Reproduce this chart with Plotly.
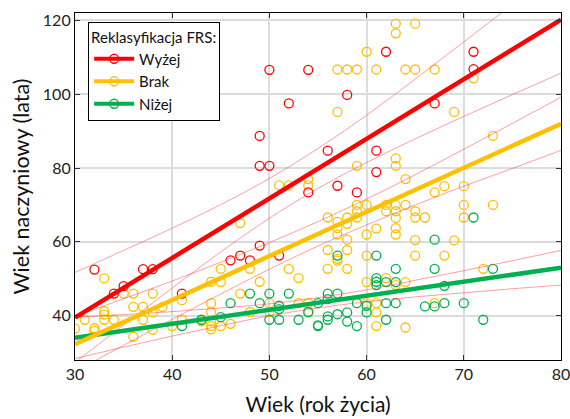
import plotly.graph_objects as go

# ---------------- data ----------------
red_x = [32, 34, 35, 37, 38, 41, 46, 47, 48, 49, 51, 54, 49, 49, 50, 50, 54, 52, 56, 57, 58, 59, 61, 61, 62, 67, 71, 71]
red_y = [52.5, 46, 48, 52.6, 52.6, 46, 55, 56.3, 55, 59, 56.3, 73.4, 88.7, 80.6, 80.6, 106.6, 106.6, 97.5, 84.7, 75.2, 99.8, 73.4, 84.7, 78.9, 111.5, 97.5, 111.5, 106.8]

yellow_x = [30, 31, 32, 32, 33, 33, 33, 33, 34, 35, 36, 36, 36, 37, 37, 38, 38, 38, 39, 40, 41, 41, 43,
            44, 44, 44, 44, 44, 44, 45, 45, 45, 46, 47, 47, 48, 48, 49, 50, 50, 51, 52, 52, 53, 53,
            54, 54, 54, 54, 56, 56, 56, 57, 57, 57, 57, 57, 57, 57, 58, 58, 58, 58, 58, 58,
            59, 59, 59, 59, 59, 60, 60, 60, 60, 60, 60, 61, 61, 61, 61, 61, 62, 62, 62,
            63, 63, 63, 63, 63, 63, 63, 63, 63, 63, 64, 64, 64, 64, 64, 65, 65, 65, 65, 65, 65,
            66, 67, 67, 67, 68, 68, 69, 69, 70, 70, 70, 71, 72, 73, 73]
yellow_y = [36.5, 38.9, 36.6, 35.9, 50.1, 41.2, 40.3, 38.9, 38.9, 46, 46, 42.4, 34.3, 42.4, 38.9, 46, 40.9, 36.2, 42.4, 37.2, 44.2, 38.9, 38.5,
            49.2, 43.4, 41, 38.5, 37.2, 36.3, 52.7, 49.1, 37.2, 37.8, 65.1, 46, 52.7, 41, 49.2, 43.4, 41, 75.3, 75.3, 52.7, 50.2, 43.4,
            77, 75.3, 43.4, 40.9, 66.6, 57.8, 52.7, 106.7, 95.2, 65.4, 63.7, 62, 55.4, 54.9, 106.7, 66.6, 64.9, 60.6, 57.8, 52.7,
            106.7, 80.6, 70, 68.3, 66.6, 111.5, 70, 62, 56.3, 49.1, 43.4, 106.7, 63.6, 43.4, 40.9, 37.2, 70, 68.3, 50.2,
            119.1, 116.5, 82.6, 80.6, 70, 68.3, 66.5, 63.7, 62, 48.3, 106.7, 77, 70, 49.1, 36.8, 119.1, 106.7, 68.3, 66.6, 60.5, 56.3,
            66.6, 106.7, 73.4, 43.4, 75.1, 56.3, 95.2, 60.4, 75.1, 70, 66.6, 104.3, 52.7, 88.7, 70]

green_x = [41, 43, 45, 46, 48, 49, 50, 50, 51, 51, 51, 52, 53, 54, 55, 55, 55, 56, 56, 56, 56,
           57, 57, 57, 58, 58, 59, 59, 60, 60, 61, 61, 61, 61, 62, 62, 62, 63, 63, 63,
           66, 67, 67, 67, 68, 68, 70, 71, 72, 73]
green_y = [37.2, 38.9, 39.6, 43.4, 46, 43.4, 46, 38.9, 42.7, 41.8, 38.9, 46, 38.9, 41, 43.4, 37.2, 37.4, 46, 44.5, 39.8, 38.9,
           56.3, 46, 40.4, 40.9, 38.4, 43.4, 37.2, 42.7, 40.9, 56.3, 50.2, 49.2, 48.3, 49.1, 43.4, 38.9, 52.7, 49.1, 43.4,
           42.5, 60.6, 52.7, 42.5, 48.1, 43.4, 43.4, 66.6, 38.9, 52.7]

# regression lines and confidence bands
band_x = [30, 35, 40, 45, 50, 55, 60, 65, 70, 75, 80]
red_fit = [39.5, 47.6, 55.6, 63.7, 71.8, 79.9, 87.9, 96.0, 104.1, 112.1, 120.2]
red_up = [51.7, 57.7, 63.7, 70.1, 77.2, 85.3, 94.3, 104.1, 114.2, 124.3, 134.7]
red_lo = [27.3, 37.5, 47.5, 57.3, 66.4, 74.5, 81.5, 87.9, 94.0, 99.9, 105.7]
yel_fit = [32.3, 38.3, 44.2, 50.2, 56.2, 62.2, 68.1, 74.1, 80.1, 86.0, 92.0]
yel_up = [39.8, 44.6, 49.4, 54.5, 59.8, 65.5, 71.6, 78.2, 85.1, 92.1, 99.2]
yel_lo = [24.8, 32.0, 39.0, 45.9, 52.6, 58.9, 64.6, 70.0, 75.1, 79.9, 84.8]
grn_fit = [34.0, 35.9, 37.8, 39.7, 41.6, 43.5, 45.4, 47.3, 49.2, 51.1, 53.0]
grn_up = [39.6, 40.3, 41.1, 42.1, 43.2, 44.9, 47.0, 49.6, 52.2, 54.9, 57.7]
grn_lo = [28.4, 31.5, 34.5, 37.3, 40.0, 42.1, 43.8, 45.1, 46.2, 47.3, 48.3]

names = ["Wyżej", "Brak", "Niżej"]
RED, YEL, GRN = "#FF0000", "#FFC000", "#00B050"
BAND = "rgba(255,60,60,0.55)"

fig = go.Figure()

for xs, ys, c in [(yellow_x, yellow_y, YEL), (green_x, green_y, GRN), (red_x, red_y, RED)]:
    fig.add_trace(go.Scatter(x=xs, y=ys, mode="markers", showlegend=False,
                             marker=dict(symbol="circle-open", size=9, color=c, line=dict(width=1.3, color=c))))

for b in [red_up, red_lo, yel_up, yel_lo, grn_up, grn_lo]:
    fig.add_trace(go.Scatter(x=band_x, y=b, mode="lines", showlegend=False,
                             line=dict(color=BAND, width=0.9, shape="spline")))

for f, c in [(grn_fit, GRN), (yel_fit, YEL), (red_fit, RED)]:
    fig.add_trace(go.Scatter(x=band_x, y=f, mode="lines", showlegend=False,
                             line=dict(color=c, width=4.5)))

for n, c in zip(names, [RED, YEL, GRN]):
    fig.add_trace(go.Scatter(x=[None], y=[None], mode="lines+markers", name=n,
                             line=dict(color=c, width=4),
                             marker=dict(symbol="circle-open", size=9, color=c, line=dict(width=1.3, color=c))))

axis_common = dict(showline=True, linecolor="black", linewidth=1.2, mirror="ticks",
                   ticks="inside", ticklen=5, tickcolor="#333", showgrid=True,
                   gridcolor="#DCDCDC", gridwidth=1.5, zeroline=False,
                   ticklabeloverflow="allow", automargin=False,
                   tickfont=dict(family="Lato", size=16, color="#222"))

fig.update_layout(
    width=570, height=419,
    margin=dict(l=75, r=9, t=13, b=59),
    paper_bgcolor="white", plot_bgcolor="white",
    font=dict(family="Lato", color="#111"),
    xaxis=dict(range=[30, 80], tickvals=[30, 40, 50, 60, 70, 80],
               title=dict(text="Wiek (rok życia)", font=dict(family="Lato", size=21), standoff=15),
               **axis_common),
    yaxis=dict(range=[28, 122], tickvals=[40, 60, 80, 100, 120],
               title=dict(text="Wiek naczyniowy (lata)", font=dict(family="Lato", size=21.5), standoff=7),
               **axis_common),
    legend=dict(x=0.027, y=0.974, xanchor="left", yanchor="top",
                bgcolor="white", bordercolor="black", borderwidth=1,
                title=dict(text="Reklasyfikacja FRS:", font=dict(family="Lato", size=15)),
                font=dict(family="Lato", size=15), tracegroupgap=0, itemwidth=40),
)

fig.write_html("out.html")
